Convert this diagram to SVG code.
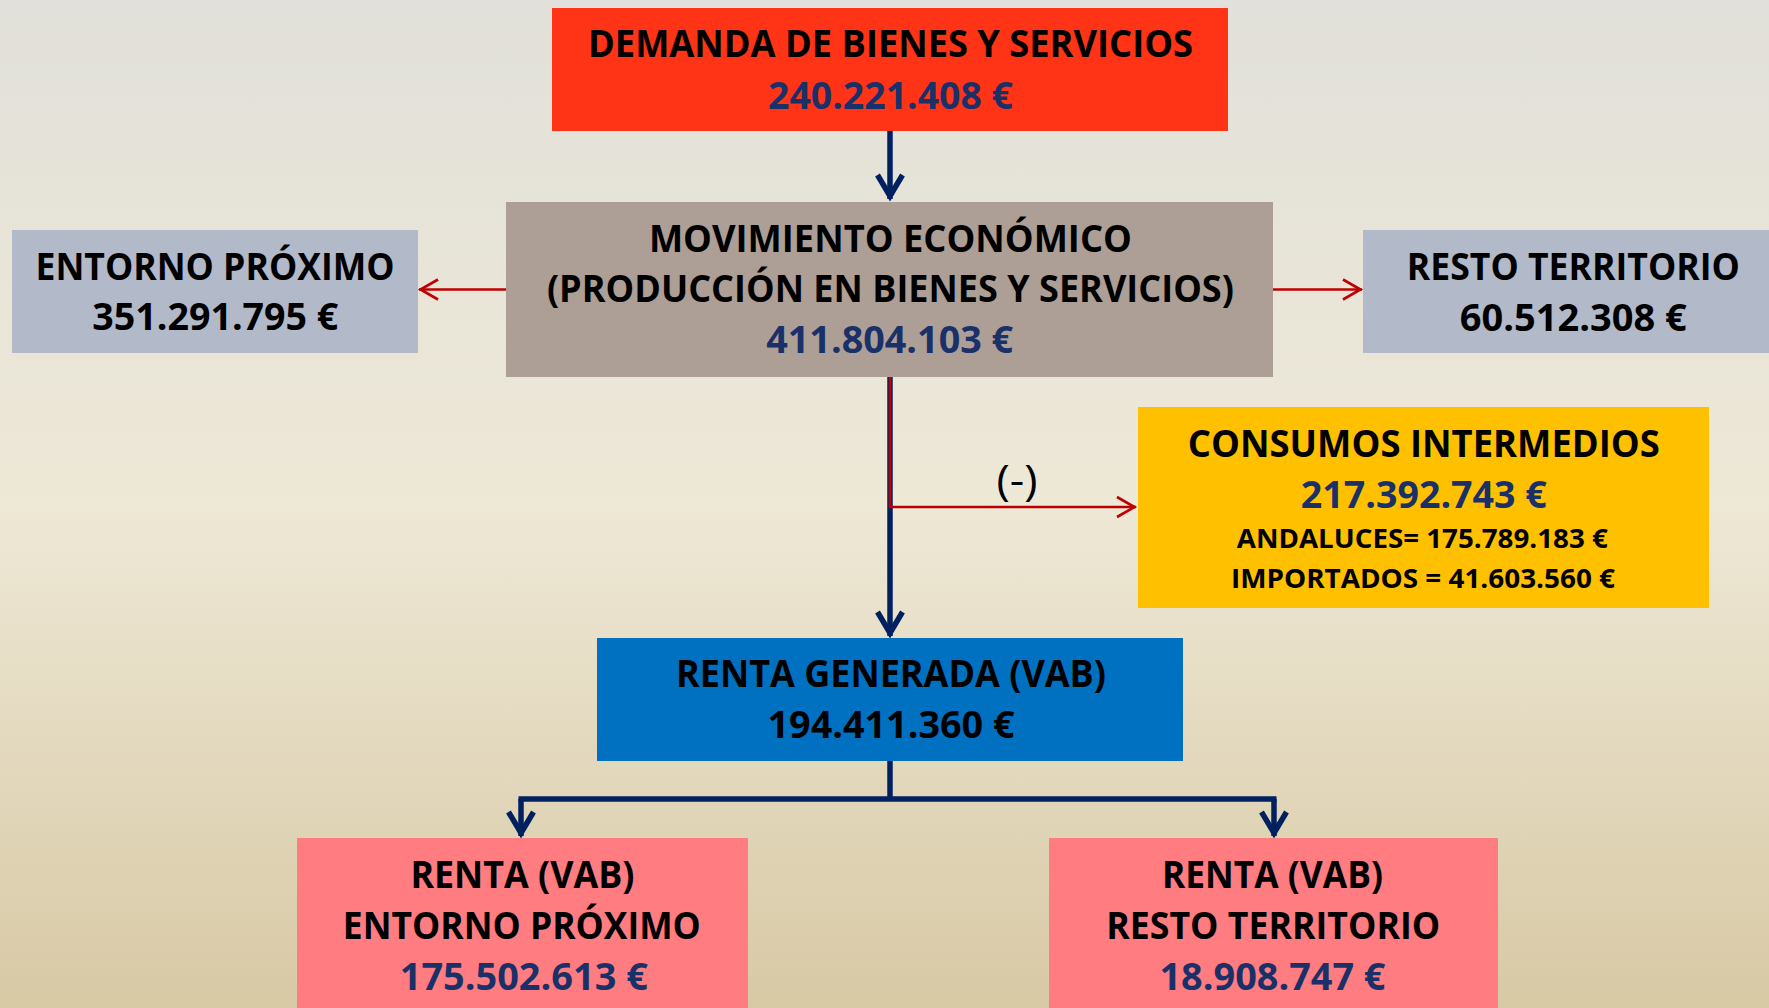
<svg xmlns="http://www.w3.org/2000/svg" width="1769" height="1008" viewBox="0 0 1769 1008">
  <defs>
    <linearGradient id="bg" x1="0" y1="0" x2="0" y2="1">
      <stop offset="0" stop-color="#E1E0DA"/>
      <stop offset="0.5" stop-color="#EEE8D6"/>
      <stop offset="1" stop-color="#D8C9A5"/>
    </linearGradient>
    <marker id="navyHead" markerUnits="userSpaceOnUse" viewBox="-30 -16 34 32" markerWidth="34" markerHeight="32" refX="0" refY="0" orient="auto" overflow="visible">
      <path d="M-24,-12.5 L-3,0 L-24,12.5" fill="none" stroke="#002060" stroke-width="5.5" stroke-linejoin="miter" stroke-miterlimit="10"/>
    </marker>
    <marker id="redHead" markerUnits="userSpaceOnUse" viewBox="-24 -14 28 28" markerWidth="28" markerHeight="28" refX="0" refY="0" orient="auto" overflow="visible">
      <path d="M-19,-10 L-1.5,0 L-19,10" fill="none" stroke="#C00000" stroke-width="2.6" stroke-linejoin="miter" stroke-miterlimit="10"/>
    </marker>
  </defs>
  <style>
    .t { font-family: "Open Sans", "Liberation Sans", sans-serif; font-weight: 700; font-size: 37px; text-anchor: middle; fill: #000; }
    .n { fill: #1A3068; }
    .s { font-size: 27.5px; }
    .navy { fill: none; stroke: #002060; stroke-width: 5.5; }
    .red { fill: none; stroke: #C00000; stroke-width: 2.6; }
  </style>

  <rect x="0" y="0" width="1769" height="1008" fill="url(#bg)"/>

  <g id="connectors">
    <line class="navy" x1="890" y1="131" x2="890" y2="199" marker-end="url(#navyHead)"/>
    <line class="navy" x1="890" y1="377" x2="890" y2="636" marker-end="url(#navyHead)"/>
    <polyline class="red" points="890,377 890,507 1136,507" marker-end="url(#redHead)"/>
    <line class="red" x1="506" y1="289.5" x2="419" y2="289.5" marker-end="url(#redHead)"/>
    <line class="red" x1="1273" y1="289.5" x2="1362" y2="289.5" marker-end="url(#redHead)"/>
    <line class="navy" x1="890" y1="761" x2="890" y2="799"/>
    <line class="navy" x1="518.5" y1="799" x2="1276.5" y2="799" stroke-width="6"/>
    <line class="navy" x1="521" y1="799" x2="521" y2="836" marker-end="url(#navyHead)"/>
    <line class="navy" x1="1274" y1="799" x2="1274" y2="836" marker-end="url(#navyHead)"/>
    <text x="1017" y="495" class="t" style="font-weight:400;font-size:42px" textLength="41" lengthAdjust="spacingAndGlyphs">(-)</text>
  </g>

  <g id="demanda">
    <rect x="552" y="8" width="676" height="123" fill="#FF3315"/>
    <text x="890.5" y="57" class="t" textLength="605" lengthAdjust="spacingAndGlyphs">DEMANDA DE BIENES Y SERVICIOS</text>
    <text x="890.5" y="108.5" class="t n" textLength="245" lengthAdjust="spacingAndGlyphs">240.221.408 €</text>
  </g>

  <g id="entorno">
    <rect x="12" y="230" width="406" height="123" fill="#B2B9C9"/>
    <text x="215" y="279.5" class="t" textLength="359" lengthAdjust="spacingAndGlyphs">ENTORNO PRÓXIMO</text>
    <text x="215.3" y="330" class="t" textLength="246" lengthAdjust="spacingAndGlyphs">351.291.795 €</text>
  </g>

  <g id="resto">
    <rect x="1363" y="230" width="420" height="123" fill="#B2B9C9"/>
    <text x="1573.3" y="280" class="t" textLength="333" lengthAdjust="spacingAndGlyphs">RESTO TERRITORIO</text>
    <text x="1573.3" y="330.7" class="t" textLength="227" lengthAdjust="spacingAndGlyphs">60.512.308 €</text>
  </g>

  <g id="movimiento">
    <rect x="506" y="202" width="767" height="175" fill="#AD9F96"/>
    <text x="890.4" y="251.7" class="t" textLength="483" lengthAdjust="spacingAndGlyphs">MOVIMIENTO ECONÓMICO</text>
    <text x="890.4" y="302" class="t" textLength="687" lengthAdjust="spacingAndGlyphs">(PRODUCCIÓN EN BIENES Y SERVICIOS)</text>
    <text x="889.7" y="353.3" class="t n" textLength="247" lengthAdjust="spacingAndGlyphs">411.804.103 €</text>
  </g>

  <g id="consumos">
    <rect x="1138" y="407" width="571" height="201" fill="#FFC000"/>
    <text x="1423.8" y="456.7" class="t" textLength="472" lengthAdjust="spacingAndGlyphs">CONSUMOS INTERMEDIOS</text>
    <text x="1423.8" y="507.7" class="t n" textLength="246" lengthAdjust="spacingAndGlyphs">217.392.743 €</text>
    <text x="1422.3" y="548.3" class="t s" textLength="371" lengthAdjust="spacingAndGlyphs">ANDALUCES= 175.789.183 €</text>
    <text x="1423" y="588.3" class="t s" textLength="384" lengthAdjust="spacingAndGlyphs">IMPORTADOS = 41.603.560 €</text>
  </g>

  <g id="renta-generada">
    <rect x="597" y="638" width="586" height="123" fill="#0070C0"/>
    <text x="891" y="686.7" class="t" textLength="430" lengthAdjust="spacingAndGlyphs">RENTA GENERADA (VAB)</text>
    <text x="891" y="738.3" class="t" textLength="247" lengthAdjust="spacingAndGlyphs">194.411.360 €</text>
  </g>

  <g id="renta-entorno">
    <rect x="297" y="838" width="451" height="180" fill="#FF7C80"/>
    <text x="522.4" y="888.3" class="t" textLength="224" lengthAdjust="spacingAndGlyphs">RENTA (VAB)</text>
    <text x="521.8" y="939" class="t" textLength="358" lengthAdjust="spacingAndGlyphs">ENTORNO PRÓXIMO</text>
    <text x="523.8" y="990" class="t n" textLength="248" lengthAdjust="spacingAndGlyphs">175.502.613 €</text>
  </g>

  <g id="renta-resto">
    <rect x="1049" y="838" width="449" height="180" fill="#FF7C80"/>
    <text x="1272.4" y="888.3" class="t" textLength="221" lengthAdjust="spacingAndGlyphs">RENTA (VAB)</text>
    <text x="1273.2" y="939" class="t" textLength="334" lengthAdjust="spacingAndGlyphs">RESTO TERRITORIO</text>
    <text x="1272.5" y="990" class="t n" textLength="226" lengthAdjust="spacingAndGlyphs">18.908.747 €</text>
  </g>
</svg>
